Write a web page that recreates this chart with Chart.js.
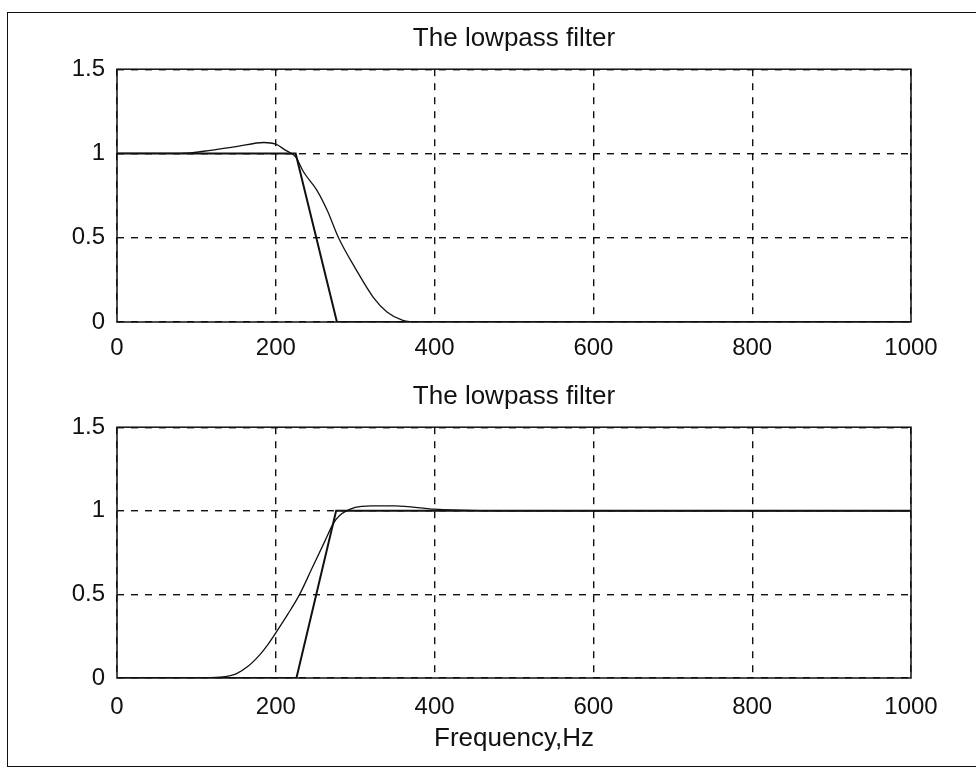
<!DOCTYPE html>
<html>
<head>
<meta charset="utf-8">
<script src="https://cdn.jsdelivr.net/npm/chart.js@4.4.0/dist/chart.umd.min.js"></script>
<style>
  html, body { margin: 0; padding: 0; background: #fff; }
  body { width: 976px; height: 772px; position: relative; overflow: hidden; }
  #frame {
    position: absolute; left: 7px; top: 12px; width: 990px; height: 753px;
    border-left: 1.5px solid #111; border-top: 1.5px solid #111; border-bottom: 1.5px solid #111;
  }
  canvas { position: absolute; left: 0; }
</style>
</head>
<body>
<div id="frame"></div>
<canvas id="lowChart" width="976" height="370" style="top:0px"></canvas>
<canvas id="highChart" width="976" height="402" style="top:370px"></canvas>
<script>
// top panel: ideal and designed lowpass response
const lowFreqIdeal = [0, 225, 277, 1000];
const lowGainIdeal = [1, 1, 0, 0];
const lowFreqActual = [0, 80, 120, 150, 185, 200, 212, 225, 235, 252, 265, 279, 300, 323, 340, 360, 380, 1000];
const lowGainActual = [1, 1, 1.02, 1.04, 1.065, 1.055, 1.02, 0.98, 0.89, 0.78, 0.66, 0.5, 0.32, 0.145, 0.06, 0.01, 0, 0];

// bottom panel: ideal and designed highpass response
const highFreqIdeal = [0, 226, 276, 1000];
const highGainIdeal = [0, 0, 1, 1];
const highFreqActual = [0, 100, 130, 150, 165, 180, 190, 200, 215, 230, 245, 262, 272, 280, 300, 320, 350, 400, 500, 1000];
const highGainActual = [0, 0, 0.005, 0.025, 0.07, 0.14, 0.2, 0.27, 0.38, 0.5, 0.65, 0.82, 0.92, 0.97, 1.02, 1.03, 1.03, 1.01, 1.0, 1.0];

const xTicks = [0, 200, 400, 600, 800, 1000];
const yTicks = [0, 0.5, 1, 1.5];

const FONT = "'Liberation Sans', Arial, Helvetica, sans-serif";
const INK = "#111";

const toPoints = (xs, ys) => xs.map((x, i) => ({ x: x, y: ys[i] }));

const boxPlugin = {
  id: "box",
  afterDraw(chart) {
    const { ctx, chartArea: a } = chart;
    ctx.save();
    ctx.strokeStyle = INK;
    ctx.lineWidth = 1.5;
    ctx.strokeRect(a.left, a.top, a.right - a.left, a.bottom - a.top);
    ctx.restore();
  },
};

function makeChart(id, cfg) {
  const scales = {
    x: {
      type: "linear",
      min: xTicks[0],
      max: xTicks[xTicks.length - 1],
      afterBuildTicks: (s) => { s.ticks = xTicks.map((v) => ({ value: v })); },
      afterFit: (s) => { s.height = cfg.xAxisHeight; },
      ticks: {
        color: INK, padding: cfg.xTickPad, font: { family: FONT, size: 24 },
        callback: (v) => String(v),
      },
      grid: { color: INK, lineWidth: 1.4, drawTicks: false },
      border: { display: false, dash: [7, 7] },
      title: cfg.xTitle
        ? { display: true, text: cfg.xTitle, color: INK, font: { family: FONT, size: 26 }, padding: { top: 0, bottom: 18 } }
        : { display: false },
    },
    y: {
      min: yTicks[0],
      max: yTicks[yTicks.length - 1],
      afterBuildTicks: (s) => { s.ticks = yTicks.map((v) => ({ value: v })); },
      afterFit: (s) => { s.width = 117; },
      ticks: {
        color: INK, padding: 12, font: { family: FONT, size: 24 },
        callback: (v) => String(v),
      },
      grid: { color: INK, lineWidth: 1.4, drawTicks: false },
      border: { display: false, dash: [7, 7] },
    },
  };

  return new Chart(document.getElementById(id), {
    type: "line",
    data: {
      datasets: [
        {
          label: "ideal",
          data: toPoints(cfg.idealX, cfg.idealY),
          borderColor: INK,
          borderWidth: 2,
          pointRadius: 0,
          tension: 0,
        },
        {
          label: "designed",
          data: toPoints(cfg.actualX, cfg.actualY),
          borderColor: INK,
          borderWidth: 1.3,
          pointRadius: 0,
          cubicInterpolationMode: "monotone",
        },
      ],
    },
    options: {
      responsive: false,
      animation: false,
      events: [],
      layout: { padding: { left: 0, right: 65, top: 0, bottom: 0 } },
      scales: scales,
      plugins: {
        legend: { display: false },
        tooltip: { enabled: false },
        title: {
          display: true,
          fullSize: false,
          text: "The lowpass filter",
          color: INK,
          font: { family: FONT, size: 26, weight: "normal" },
          padding: cfg.titlePad,
        },
      },
    },
    plugins: [boxPlugin],
  });
}

makeChart("lowChart", {
  idealX: lowFreqIdeal, idealY: lowGainIdeal,
  actualX: lowFreqActual, actualY: lowGainActual,
  titlePad: { top: 23, bottom: 15 },
  xAxisHeight: 48,
  xTickPad: 12,
});

makeChart("highChart", {
  idealX: highFreqIdeal, idealY: highGainIdeal,
  actualX: highFreqActual, actualY: highGainActual,
  titlePad: { top: 11, bottom: 15 },
  xAxisHeight: 94,
  xTickPad: 15,
  xTitle: "Frequency,Hz",
});
</script>
</body>
</html>
